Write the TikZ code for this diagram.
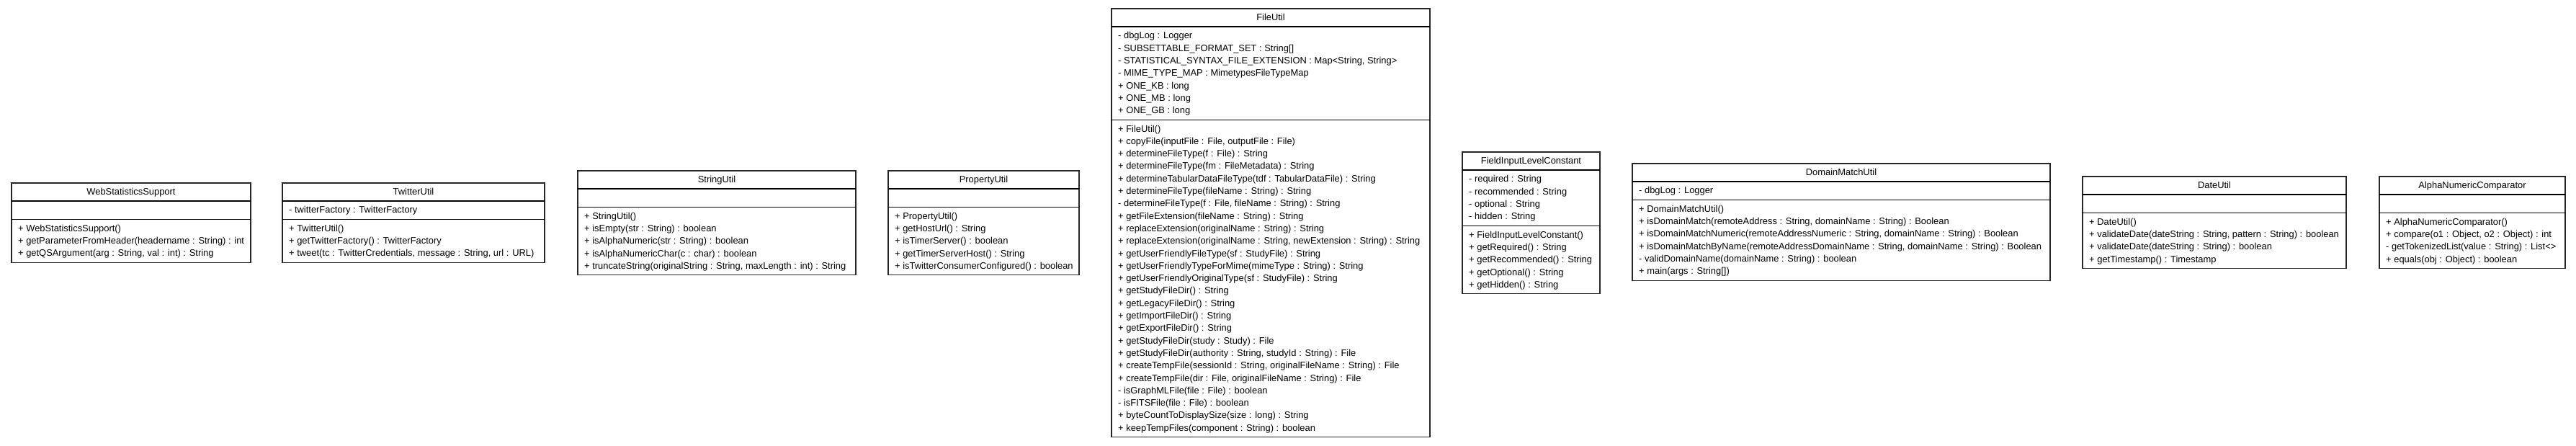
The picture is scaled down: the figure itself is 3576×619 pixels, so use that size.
\documentclass[tikz,border=0pt]{standalone}
\usepackage{fontspec}
\setmainfont{Liberation Sans}
\newcommand{\umlfont}{\fontsize{12.9bp}{17.3bp}\selectfont}
\tikzset{
  umlframe/.style={draw=black!85, line width=1.2bp, fill=white, inner sep=0pt, outer sep=0pt},
  umlsep/.style={draw=black, line width=1.1bp},
  umltitle/.style={anchor=base, inner sep=0pt, font=\umlfont},
  umlrow/.style={anchor=base west, inner sep=0pt, font=\umlfont},
}
% #1 id, #2 left, #3 right, #4 top, #5 attribute rows (1 if empty), #6 method rows,
% #7 title, #8 attributes, #9 methods
\newcommand{\umlclass}[9]{%
  \pgfmathsetmacro{\sepA}{#4+25}%
  \pgfmathsetmacro{\sepB}{\sepA+#5*17.3+8}%
  \pgfmathsetmacro{\bott}{\sepB+#6*17.3+8}%
  \pgfmathsetmacro{\wid}{#3-#2}%
  \pgfmathsetmacro{\hei}{\bott-#4}%
  \node[umlframe, anchor=north west, minimum width=\wid bp, minimum height=\hei bp] (#1) at (#2,#4) {};
  \draw[umlsep] (#2,\sepA) coordinate (#1-sa) -- (#3,\sepA) coordinate (#1-sae);
  \draw[umlsep] (#2,\sepB) coordinate (#1-sb) -- (#3,\sepB) coordinate (#1-sbe);
  \node[umltitle] (#1-t) at ({(#2+#3)/2}, #4+16.3) {#7};
  \if\relax\detokenize{#8}\relax\else
    \foreach \t [count=\i] in {#8} {\node[umlrow] (#1-a\i) at (#2+9, \sepA+4+17.3*\i-8.65+4.3) {\t};}
  \fi
  \foreach \t [count=\i] in {#9} {\node[umlrow] (#1-m\i) at (#2+9, \sepB+4+17.3*\i-8.65+4.3) {\t};}
}
\begin{document}
\begin{tikzpicture}[x=1bp, y=-1bp]
\fill[white] (0,0) rectangle (3576,619);
\useasboundingbox (0,0) rectangle (3576,619);

\umlclass{wss}{16}{348}{254}{1}{3}{WebStatisticsSupport}{}{%
  {+ WebStatisticsSupport()},
  {+ getParameterFromHeader(headername : String) : int},
  {+ getQSArgument(arg : String, val : int) : String}}

\umlclass{twitter}{392}{756}{254}{1}{3}{TwitterUtil}{{- twitterFactory : TwitterFactory}}{%
  {+ TwitterUtil()},
  {+ getTwitterFactory() : TwitterFactory},
  {+ tweet(tc : TwitterCredentials, message : String, url : URL)}}

\umlclass{stringutil}{802}{1188}{237}{1}{5}{StringUtil}{}{%
  {+ StringUtil()},
  {+ isEmpty(str : String) : boolean},
  {+ isAlphaNumeric(str : String) : boolean},
  {+ isAlphaNumericChar(c : char) : boolean},
  {+ truncateString(originalString : String, maxLength : int) : String}}

\umlclass{property}{1233}{1498}{237}{1}{5}{PropertyUtil}{}{%
  {+ PropertyUtil()},
  {+ getHostUrl() : String},
  {+ isTimerServer() : boolean},
  {+ getTimerServerHost() : String},
  {+ isTwitterConsumerConfigured() : boolean}}

\umlclass{fileutil}{1543}{1985}{12}{7}{25}{FileUtil}{%
  {- dbgLog : Logger},
  {- SUBSETTABLE\_FORMAT\_SET : String[]},
  {- STATISTICAL\_SYNTAX\_FILE\_EXTENSION : Map<String, String>},
  {- MIME\_TYPE\_MAP : MimetypesFileTypeMap},
  {+ ONE\_KB : long},
  {+ ONE\_MB : long},
  {+ ONE\_GB : long}}{%
  {+ FileUtil()},
  {+ copyFile(inputFile : File, outputFile : File)},
  {+ determineFileType(f : File) : String},
  {+ determineFileType(fm : FileMetadata) : String},
  {+ determineTabularDataFileType(tdf : TabularDataFile) : String},
  {+ determineFileType(fileName : String) : String},
  {- determineFileType(f : File, fileName : String) : String},
  {+ getFileExtension(fileName : String) : String},
  {+ replaceExtension(originalName : String) : String},
  {+ replaceExtension(originalName : String, newExtension : String) : String},
  {+ getUserFriendlyFileType(sf : StudyFile) : String},
  {+ getUserFriendlyTypeForMime(mimeType : String) : String},
  {+ getUserFriendlyOriginalType(sf : StudyFile) : String},
  {+ getStudyFileDir() : String},
  {+ getLegacyFileDir() : String},
  {+ getImportFileDir() : String},
  {+ getExportFileDir() : String},
  {+ getStudyFileDir(study : Study) : File},
  {+ getStudyFileDir(authority : String, studyId : String) : File},
  {+ createTempFile(sessionId : String, originalFileName : String) : File},
  {+ createTempFile(dir : File, originalFileName : String) : File},
  {- isGraphMLFile(file : File) : boolean},
  {- isFITSFile(file : File) : boolean},
  {+ byteCountToDisplaySize(size : long) : String},
  {+ keepTempFiles(component : String) : boolean}}

\umlclass{field}{2030}{2221}{211}{4}{5}{FieldInputLevelConstant}{%
  {- required : String},
  {- recommended : String},
  {- optional : String},
  {- hidden : String}}{%
  {+ FieldInputLevelConstant()},
  {+ getRequired() : String},
  {+ getRecommended() : String},
  {+ getOptional() : String},
  {+ getHidden() : String}}

\umlclass{domain}{2266}{2846}{227}{1}{6}{DomainMatchUtil}{{- dbgLog : Logger}}{%
  {+ DomainMatchUtil()},
  {+ isDomainMatch(remoteAddress : String, domainName : String) : Boolean},
  {+ isDomainMatchNumeric(remoteAddressNumeric : String, domainName : String) : Boolean},
  {+ isDomainMatchByName(remoteAddressDomainName : String, domainName : String) : Boolean},
  {- validDomainName(domainName : String) : boolean},
  {+ main(args : String[])}}

\umlclass{dateutil}{2891}{3257}{245}{1}{4}{DateUtil}{}{%
  {+ DateUtil()},
  {+ validateDate(dateString : String, pattern : String) : boolean},
  {+ validateDate(dateString : String) : boolean},
  {+ getTimestamp() : Timestamp}}

\umlclass{alpha}{3303}{3561}{245}{1}{4}{AlphaNumericComparator}{}{%
  {+ AlphaNumericComparator()},
  {+ compare(o1 : Object, o2 : Object) : int},
  {- getTokenizedList(value : String) : List<>},
  {+ equals(obj : Object) : boolean}}
\end{tikzpicture}
\end{document}
